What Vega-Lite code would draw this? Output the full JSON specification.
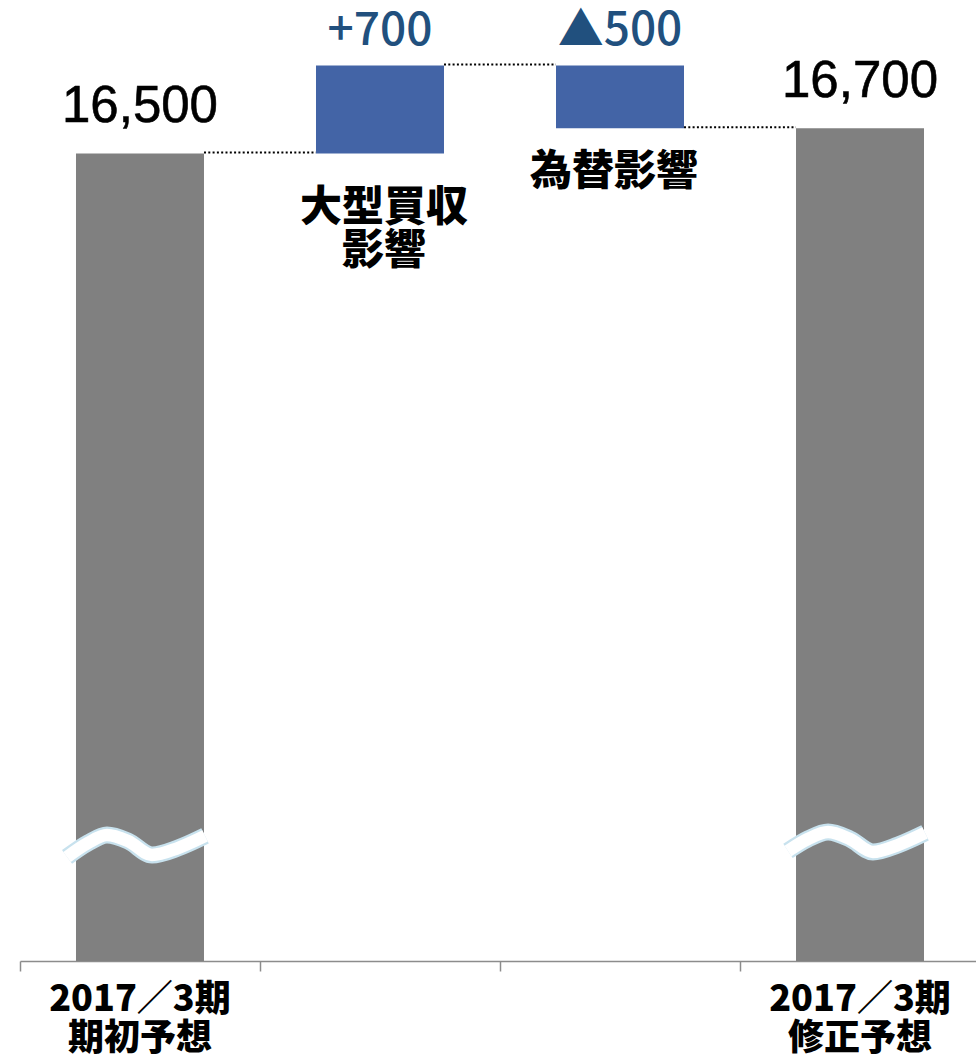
{
  "$schema": "https://vega.github.io/schema/vega-lite/v6.json",
  "width": 956,
  "height": 961,
  "autosize": "none",
  "padding": {"left": 20, "top": 0, "right": 0, "bottom": 97},
  "background": "white",
  "config": {"view": {"stroke": null}},
  "datasets": {
    "bars": [
      {"cat": "c1", "kind": "total", "high": 16500, "low": null, "valueLabel": "16,500", "name": "", "axisLabel": "2017／3期\n期初予想"},
      {"cat": "c2", "kind": "delta", "high": 17200, "low": 16500, "valueLabel": "+700", "name": "大型買収\n影響", "axisLabel": ""},
      {"cat": "c3", "kind": "delta", "high": 17200, "low": 16700, "valueLabel": "▲500", "name": "為替影響", "axisLabel": ""},
      {"cat": "c4", "kind": "total", "high": 16700, "low": null, "valueLabel": "16,700", "name": "", "axisLabel": "2017／3期\n修正予想"}
    ],
    "links": [
      {"from": "c1", "to": "c2", "level": 16500},
      {"from": "c2", "to": "c3", "level": 17200},
      {"from": "c3", "to": "c4", "level": 16700}
    ],
    "wave": [
      {"bar": "c1", "wx": 0.196, "wy": 10907},
      {"bar": "c1", "wx": 0.283, "wy": 11018},
      {"bar": "c1", "wx": 0.3625, "wy": 11082},
      {"bar": "c1", "wx": 0.45, "wy": 11034},
      {"bar": "c1", "wx": 0.55, "wy": 10923},
      {"bar": "c1", "wx": 0.658, "wy": 10978},
      {"bar": "c1", "wx": 0.771, "wy": 11074},
      {"bar": "c4", "wx": 3.2, "wy": 10955},
      {"bar": "c4", "wx": 3.283, "wy": 11050},
      {"bar": "c4", "wx": 3.367, "wy": 11106},
      {"bar": "c4", "wx": 3.458, "wy": 11050},
      {"bar": "c4", "wx": 3.554, "wy": 10947},
      {"bar": "c4", "wx": 3.658, "wy": 11002},
      {"bar": "c4", "wx": 3.771, "wy": 11098}
    ]
  },
  "layer": [
    {
      "layer": [
        {
          "data": {"name": "links"},
          "mark": {"type": "rule", "color": "#000000", "strokeWidth": 2, "strokeDash": [2, 2.3], "xOffset": 64, "x2Offset": -64, "yOffset": -1},
          "encoding": {
            "x": {"field": "from", "type": "nominal", "sort": ["c1", "c2", "c3", "c4"],
                  "scale": {"domain": ["c1", "c2", "c3", "c4"], "range": [0, 960], "paddingInner": 0.4667, "paddingOuter": 0.2333},
                  "axis": {"labels": false, "title": null, "bandPosition": 0, "tickOffset": -56, "ticks": true, "tickSize": 10, "tickColor": "#8c8c8c", "tickWidth": 1.5, "domainColor": "#8c8c8c", "domainWidth": 1.5, "grid": false}},
            "x2": {"field": "to"},
            "y": {"field": "level", "type": "quantitative", "scale": {"domain": [10080, 17720], "zero": false, "nice": false}, "axis": null}
          }
        },
        {
          "data": {"name": "bars"},
          "transform": [{"filter": "datum.kind === 'total'"}],
          "mark": {"type": "bar", "color": "#808080", "clip": true},
          "encoding": {
            "x": {"field": "cat", "type": "nominal"},
            "y": {"field": "high", "type": "quantitative", "scale": {"domain": [10080, 17720], "zero": false, "nice": false}}
          }
        },
        {
          "data": {"name": "bars"},
          "transform": [{"filter": "datum.kind === 'delta'"}],
          "mark": {"type": "bar", "color": "#4364A6"},
          "encoding": {
            "x": {"field": "cat", "type": "nominal"},
            "y": {"field": "high", "type": "quantitative", "scale": {"domain": [10080, 17720], "zero": false, "nice": false}},
            "y2": {"field": "low"}
          }
        },
        {
          "data": {"name": "bars"},
          "transform": [{"filter": "datum.kind === 'total'"}],
          "mark": {"type": "text", "font": "Liberation Sans", "fontSize": 51, "color": "#000000", "baseline": "alphabetic", "dy": -31, "stroke": "#000000", "strokeWidth": 0.6},
          "encoding": {
            "x": {"field": "cat", "type": "nominal"},
            "y": {"field": "high", "type": "quantitative", "scale": {"domain": [10080, 17720], "zero": false, "nice": false}},
            "text": {"field": "valueLabel"}
          }
        },
        {
          "data": {"name": "bars"},
          "transform": [{"filter": "datum.kind === 'delta'"}],
          "mark": {"type": "text", "font": "Noto Sans CJK JP", "fontWeight": 500, "fontSize": 46, "color": "#21507E", "baseline": "alphabetic", "dy": -20},
          "encoding": {
            "x": {"field": "cat", "type": "nominal"},
            "y": {"field": "high", "type": "quantitative", "scale": {"domain": [10080, 17720], "zero": false, "nice": false}},
            "text": {"field": "valueLabel"}
          }
        },
        {
          "data": {"name": "bars"},
          "transform": [{"filter": "datum.cat === 'c2'"}],
          "mark": {"type": "text", "font": "Noto Sans CJK JP", "fontWeight": 900, "fontSize": 42, "color": "#000000", "baseline": "top", "lineBreak": "\n", "lineHeight": 43, "dy": 35, "dx": 4},
          "encoding": {
            "x": {"field": "cat", "type": "nominal"},
            "y": {"field": "low", "type": "quantitative", "scale": {"domain": [10080, 17720], "zero": false, "nice": false}},
            "text": {"field": "name"}
          }
        },
        {
          "data": {"name": "bars"},
          "transform": [{"filter": "datum.cat === 'c3'"}],
          "mark": {"type": "text", "font": "Noto Sans CJK JP", "fontWeight": 900, "fontSize": 42, "color": "#000000", "baseline": "top", "lineBreak": "\n", "lineHeight": 43, "dy": 24, "dx": -6},
          "encoding": {
            "x": {"field": "cat", "type": "nominal"},
            "y": {"field": "low", "type": "quantitative", "scale": {"domain": [10080, 17720], "zero": false, "nice": false}},
            "text": {"field": "name"}
          }
        },
        {
          "data": {"name": "bars"},
          "transform": [{"filter": "datum.kind === 'total'"}],
          "mark": {"type": "text", "font": "Noto Sans CJK JP", "fontWeight": 900, "fontSize": 36, "color": "#000000", "baseline": "top", "lineBreak": "\n", "lineHeight": 39, "dy": 22},
          "encoding": {
            "x": {"field": "cat", "type": "nominal"},
            "y": {"datum": 10080, "type": "quantitative", "scale": {"domain": [10080, 17720], "zero": false, "nice": false}},
            "text": {"field": "axisLabel"}
          }
        }
      ]
    },
    {
      "data": {"name": "wave"},
      "layer": [
        {
          "mark": {"type": "line", "color": "#C8E2EE", "strokeWidth": 17, "interpolate": "monotone", "strokeCap": "butt"},
          "encoding": {
            "x": {"field": "wx", "type": "quantitative", "scale": {"domain": [0, 4], "range": [0, 960], "nice": false, "zero": false}, "axis": null},
            "y": {"field": "wy", "type": "quantitative", "scale": {"domain": [10080, 17720], "zero": false, "nice": false}},
            "detail": {"field": "bar"}
          }
        },
        {
          "mark": {"type": "line", "color": "#FFFFFF", "strokeWidth": 12.5, "interpolate": "monotone", "strokeCap": "butt"},
          "encoding": {
            "x": {"field": "wx", "type": "quantitative"},
            "y": {"field": "wy", "type": "quantitative"},
            "detail": {"field": "bar"}
          }
        }
      ]
    }
  ],
  "resolve": {"scale": {"x": "independent"}}
}
